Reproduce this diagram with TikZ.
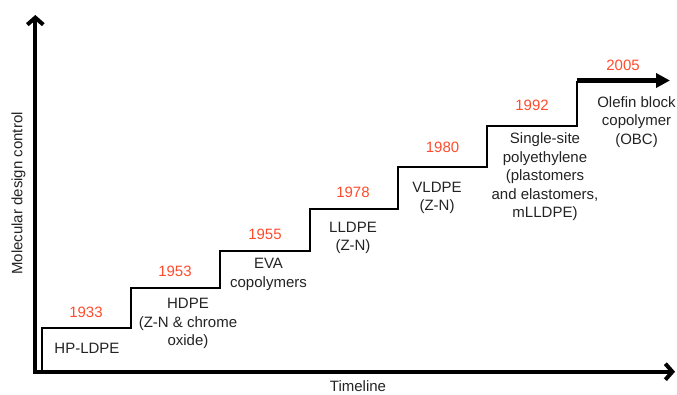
\documentclass[tikz,border=0pt]{standalone}
\usepackage{fontspec}
\setmainfont{Liberation Sans}
\usetikzlibrary{arrows.meta, positioning}
\definecolor{yearred}{RGB}{255,75,45}
\definecolor{txtgray}{RGB}{35,35,35}
\tikzset{
  axis/.style={line width=4pt, line join=miter,
    {Straight Barb[length=7pt,width=16pt]}-{Straight Barb[length=7pt,width=16pt]}},
  stair/.style={line width=2pt, line join=miter},
  lastarrow/.style={line width=4.5pt, -{Triangle[length=14pt,width=14pt]}},
  yr/.style={text=yearred, font=\fontsize{15}{18.5}\selectfont, inner sep=0pt},
  poly/.style={align=center, anchor=north, text=txtgray,
    font=\fontsize{15}{18.5}\selectfont, inner sep=0pt}}

\begin{document}
\begin{tikzpicture}[x=1pt,y=-1pt]
  \useasboundingbox (0,0) rectangle (677,394);
  % axes
    \coordinate (o) at (35.3,371.7);
    \coordinate (ytop) at (35.3,15);
    \coordinate (xend) at (675,371.7);
          \draw[axis] (ytop) -- (o) -- (xend);
  % steps
    \coordinate (b) at (41.5,372);
    \foreach \n/\x/\y in {0/41.5/327.5, 1/130.5/288, 2/220/251, 3/309.5/209,
                          4/398/167, 5/487/126, 6/577/80.5}
      \coordinate (c\n) at (\x,\y);
    \coordinate (tip) at (670,80.5);
          \draw[stair] (b) -- (c0) -| (c1) -| (c2) -| (c3) -| (c4) -| (c5) -| (c6);
          \draw[lastarrow] (c6) -- (tip);
  % years
    \node[yr] (y1933) at (86,312.5) {1933};
    \node[yr] (y1953) at (175,271.5) {1953};
    \node[yr] (y1955) at (265,234) {1955};
    \node[yr] (y1978) at (353,192.5) {1978};
    \node[yr] (y1980) at (442.5,147) {1980};
    \node[yr] (y1992) at (532,105.5) {1992};
    \node[yr] (y2005) at (623,65.5) {2005};
  % polymers
    \node[poly] (hpldpe) at (87,343) {HP-LDPE};
    \node[poly] (hdpe) at (188,298) {HDPE\\(Z-N \& chrome\\oxide)};
    \node[poly] (eva) at (268.5,258) {EVA\\copolymers};
    \node[poly] (lldpe) at (353,221.5) {LLDPE\\(Z-N)};
    \node[poly] (vldpe) at (437,181.5) {VLDPE\\(Z-N)};
    \node[poly] (sspe) at (545,132.5) {Single-site\\polyethylene\\(plastomers\\and elastomers,\\mLLDPE)};
    \node[poly] (obc) at (636.5,96) {Olefin block\\copolymer\\(OBC)};
  % axis titles
    \node[poly] (tl) at (358,380.5) {Timeline};
    \node[poly, anchor=center, rotate=90] (mdc) at (18.5,193.5) {Molecular design control};
\end{tikzpicture}
\end{document}
